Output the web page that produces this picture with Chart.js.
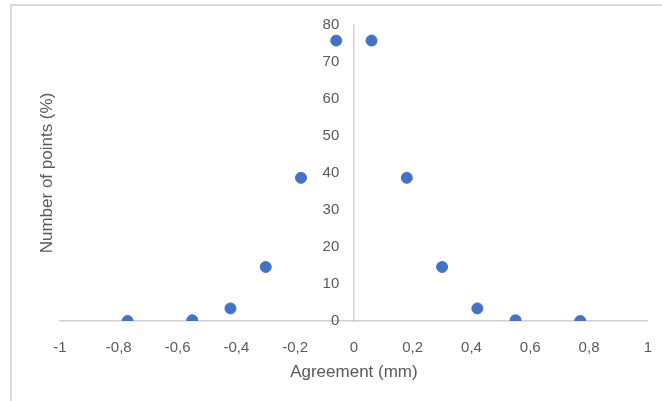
<!DOCTYPE html>
<html>
<head>
<meta charset="utf-8">
<script src="https://cdn.jsdelivr.net/npm/chart.js@4.4.1/dist/chart.umd.min.js"></script>
<style>
  body { margin: 0; background: #fff; }
  #wrap { position: relative; width: 662px; height: 401px; }
  #marco { position: absolute; left: 10px; top: 4px; right: 0; bottom: 0;
           border-top: 2px solid #d9d9d9; border-left: 2px solid #d9d9d9; }
  canvas { position: absolute; left: 0; top: 0; }
</style>
</head>
<body>
<div id="wrap">
  <div id="marco"></div>
  <canvas id="grafico" width="662" height="401"></canvas>
</div>
<script>
// datos
const acuerdo = [-0.77, -0.55, -0.42, -0.30, -0.18, -0.06, 0.06, 0.18, 0.30, 0.42, 0.55, 0.77];
const puntos  = [0, 0.2, 3.4, 14.6, 38.7, 75.8, 75.8, 38.7, 14.6, 3.4, 0.2, 0];
const ticksX  = [-1, -0.8, -0.6, -0.4, -0.2, 0, 0.2, 0.4, 0.6, 0.8, 1];
const ticksY  = [0, 10, 20, 30, 40, 50, 60, 70, 80];

const gris = "#595959";
const lineaEje = "#d0d0d0";
const letra = "Liberation Sans";

const datos = acuerdo.map((x, i) => ({ x: x, y: puntos[i] }));

function coma(v) {
    const r = Math.round(v * 10) / 10;
    return String(r).replace(".", ",");
}

new Chart(document.getElementById("grafico"), {
    type: "scatter",
    data: {
        datasets: [{
            data: datos,
            backgroundColor: "#4472C4",
            borderColor: "#4472C4",
            pointRadius: 5.5,
            pointHoverRadius: 5.5
        }]
    },
    options: {
        responsive: false,
        animation: false,
        layout: { padding: { top: 25, right: 12, bottom: 0, left: 0 } },
        plugins: { legend: { display: false }, tooltip: { enabled: false } },
        scales: {
            x: {
                type: "linear",
                position: "bottom",
                min: -1, max: 1,
                afterBuildTicks: s => { s.ticks = ticksX.map(v => ({ value: v })); },
                afterFit: s => { s.height = 80; },
                grid: { display: false },
                border: { color: lineaEje, width: 1.5 },
                ticks: {
                    color: gris,
                    font: { family: letra, size: 15 },
                    padding: 10,
                    maxRotation: 0,
                    callback: v => coma(v)
                },
                title: {
                    display: true,
                    text: "Agreement (mm)",
                    color: gris,
                    font: { family: letra, size: 17 },
                    padding: { top: 0, bottom: 18 }
                }
            },
            // eje vertical en x = 0 (solo la linea)
            y: {
                type: "linear",
                position: { x: 0 },
                min: 0, max: 80,
                afterBuildTicks: s => { s.ticks = ticksY.map(v => ({ value: v })); },
                grid: { display: false },
                border: { color: lineaEje, width: 1.5 },
                ticks: { display: false }
            },
            // etiquetas del eje vertical, un poco a la izquierda de la linea
            yEtiq: {
                type: "linear",
                position: { x: -0.05 },
                min: 0, max: 80,
                afterBuildTicks: s => { s.ticks = ticksY.map(v => ({ value: v })); },
                grid: { display: false },
                border: { display: false },
                ticks: {
                    color: gris,
                    font: { family: letra, size: 15 }
                }
            },
            yTitulo: {
                type: "linear",
                position: "left",
                min: 0, max: 80,
                afterFit: s => { s.width = 60; },
                grid: { display: false },
                border: { display: false },
                ticks: { display: false },
                title: {
                    display: true,
                    text: "Number of points (%)",
                    color: gris,
                    font: { family: letra, size: 17 },
                    padding: { top: 37, bottom: 0 }
                }
            }
        }
    }
});
</script>
</body>
</html>
